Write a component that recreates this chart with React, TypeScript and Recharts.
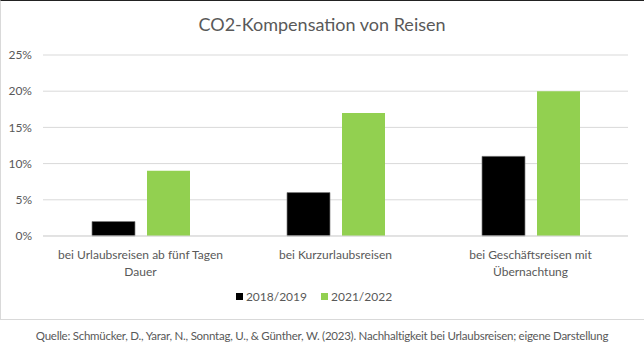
import { BarChart, Bar, XAxis, YAxis, CartesianGrid, Legend } from "recharts";

const kategorien = [
  "bei Urlaubsreisen ab fünf Tagen Dauer",
  "bei Kurzurlaubsreisen",
  "bei Geschäftsreisen mit Übernachtung",
];
const werte2018 = [0.02, 0.06, 0.11];
const werte2021 = [0.09, 0.17, 0.2];
const yTicks = [0, 0.05, 0.1, 0.15, 0.2, 0.25];

const daten = kategorien.map((k, i) => ({
  kategorie: k,
  j2018: werte2018[i],
  j2021: werte2021[i],
}));

const schrift = "Lato, 'Open Sans', sans-serif";
const grau = "#595959";

// Zeilen umbrechen nach Zeichenanzahl (wie in Excel)
function umbrechen(s: string, max: number) {
  const zeilen: string[] = [];
  let akt = "";
  for (const w of s.split(" ")) {
    const probe = akt ? akt + " " + w : w;
    if (probe.length > max && akt) {
      zeilen.push(akt);
      akt = w;
    } else {
      akt = probe;
    }
  }
  if (akt) zeilen.push(akt);
  return zeilen;
}

function KategorieTick(props: any) {
  const { x, y, payload } = props;
  const zeilen = umbrechen(payload.value, 31);
  return (
    <text x={x} y={y + 21} textAnchor="middle" fill={grau} fontSize={12} fontFamily={schrift}>
      {zeilen.map((z, i) => (
        <tspan key={i} x={x} dy={i === 0 ? 0 : 17}>
          {z}
        </tspan>
      ))}
    </text>
  );
}

function LegendeInhalt() {
  const eintraege = [
    { name: "2018/2019", farbe: "#000000" },
    { name: "2021/2022", farbe: "#92d050" },
  ];
  return (
    <div style={{ display: "flex", justifyContent: "center", gap: 14, paddingTop: 3 }}>
      {eintraege.map((e) => (
        <div key={e.name} style={{ display: "flex", alignItems: "center", gap: 3 }}>
          <span style={{ width: 7, height: 7, background: e.farbe, display: "inline-block" }} />
          <span style={{ fontSize: 12, color: grau, fontFamily: schrift }}>{e.name}</span>
        </div>
      ))}
    </div>
  );
}

export default function App() {
  return (
    <div
      style={{
        position: "fixed",
        left: 0,
        top: 0,
        width: 644,
        height: 354,
        background: "#fff",
        fontFamily: schrift,
      }}
    >
      <div
        style={{
          position: "absolute",
          left: 0,
          top: 0,
          width: 643,
          height: 318,
          borderTop: "1px solid #222",
          borderLeft: "1px solid #d9d9d9",
          borderBottom: "1px solid #d9d9d9",
        }}
      />
      <div
        style={{
          position: "absolute",
          top: 13,
          left: 0,
          width: 644,
          textAlign: "center",
          fontSize: 18,
          color: grau,
        }}
      >
        CO2-Kompensation von Reisen
      </div>
      <div style={{ position: "absolute", left: 0, top: 0 }}>
        <BarChart
          width={644}
          height={318}
          data={daten}
          margin={{ top: 55, right: 16, left: 0, bottom: 0 }}
          barSize={43}
          barGap={12}
        >
          <CartesianGrid vertical={false} stroke="#d9d9d9" />
          <XAxis
            dataKey="kategorie"
            axisLine={{ stroke: "#d9d9d9" }}
            tickLine={false}
            tickSize={0}
            tick={<KategorieTick />}
            interval={0}
            height={50}
          />
          <YAxis
            width={43}
            domain={[0, 0.25]}
            ticks={yTicks}
            axisLine={false}
            tickLine={false}
            tickSize={0}
            tickMargin={11}
            tickFormatter={(v: number) => `${Math.round(v * 100)}%`}
            tick={{ fill: grau, fontSize: 12, fontFamily: schrift }}
          />
          <Legend verticalAlign="bottom" height={32} content={<LegendeInhalt />} />
          <Bar
            dataKey="j2018"
            name="2018/2019"
            fill="#000000"
            stroke="#808080"
            strokeWidth={0.7}
            isAnimationActive={false}
          />
          <Bar dataKey="j2021" name="2021/2022" fill="#92d050" isAnimationActive={false} />
        </BarChart>
      </div>
      <div
        style={{
          position: "absolute",
          top: 329,
          left: 0,
          width: 644,
          textAlign: "center",
          fontSize: 11.5,
          letterSpacing: -0.25,
          whiteSpace: "nowrap",
          color: grau,
        }}
      >
        Quelle: Schmücker, D., Yarar, N., Sonntag, U., &amp; Günther, W. (2023). Nachhaltigkeit bei Urlaubsreisen; eigene Darstellung
      </div>
    </div>
  );
}
